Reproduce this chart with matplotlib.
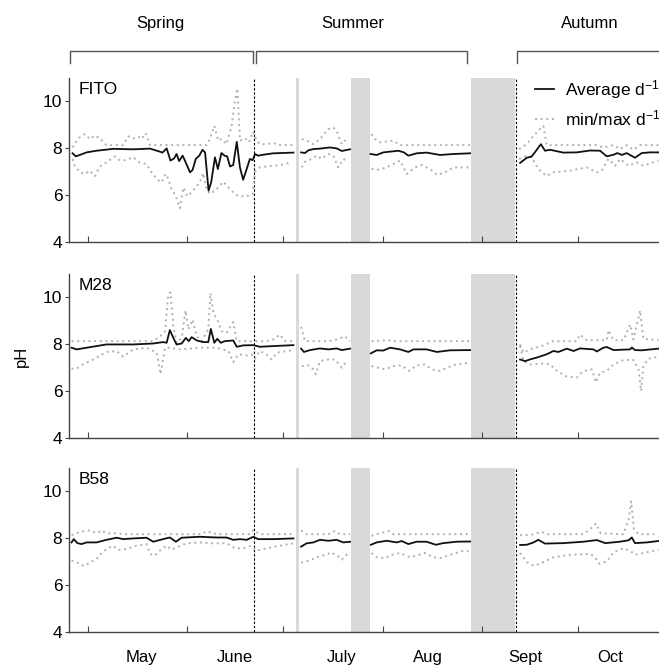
import numpy as np
import matplotlib
matplotlib.use('Agg')
import matplotlib.pyplot as plt
import matplotlib.transforms as mtransforms

plt.rcParams['font.family'] = ['Liberation Sans', 'DejaVu Sans']
plt.rcParams['mathtext.default'] = 'regular'

# x = days since 1 May
GAP = (np.nan, np.nan)

MONTH_START = [0, 31, 61, 92, 123, 153]
MONTH_NAMES = ['May', 'June', 'July', 'Aug', 'Sept', 'Oct']
MONTH_LABEL_POS = [16.5, 45.7, 79.3, 106.0, 136.7, 163.2]

SEASONS = ['Spring', 'Summer', 'Autumn']
SEASON_TEXT_POS = [22.7, 82.7, 156.8]
SEASON_SPANS = [(-5.6, 51.6), (52.3, 118.4), (133.8, None)]
SEASON_BREAKS = [51.9, 133.6]

NO_DATA = [(64.8, 65.8), (82.2, 88.0), (119.6, 133.4)]

FITO_AVG = [(-4.9, 7.79), (-3.9, 7.66), (-2.6, 7.72), (-0.5, 7.83), (2.6, 7.9), (7.8, 7.98), (14.1, 7.96),
            (19.3, 7.99), (22.4, 7.86), (23.2, 7.82), (24.5, 8.0), (25.7, 7.48), (26.8, 7.57), (27.6, 7.76),
            (28.4, 7.46), (29.5, 7.69), (30.2, 7.48), (31.8, 6.98), (32.6, 7.08), (33.6, 7.55), (34.7, 7.69),
            (35.7, 7.94), (36.5, 7.83), (37.6, 6.2), (38.4, 6.55), (39.6, 7.62), (40.5, 7.12), (41.6, 7.8),
            (42.6, 7.69), (43.4, 7.66), (44.3, 7.23), (45.3, 7.29), (46.4, 8.28), (47.4, 7.19), (48.4, 6.66),
            (49.5, 7.12), (50.5, 7.55), (51.4, 7.5), (52.1, 7.76), (53.1, 7.69), (54.7, 7.73), (57.8, 7.79),
            (64.1, 7.82), GAP,
            (66.5, 7.83), (67.7, 7.8), (68.8, 7.92), (70.3, 7.97), (72.4, 7.99), (75.5, 8.04), (77.6, 8.0),
            (79.2, 7.89), (81.8, 7.96), GAP,
            (88.2, 7.76), (90.1, 7.72), (92.2, 7.83), (96.9, 7.9), (98.6, 7.83), (100.0, 7.69), (102.6, 7.79),
            (105.7, 7.82), (109.9, 7.72), (114.1, 7.76), (119.3, 7.79), GAP,
            (134.9, 7.38), (137.0, 7.6), (138.5, 7.65), (139.9, 7.9), (141.4, 8.18), (142.7, 7.9), (144.3, 7.94),
            (148.4, 7.82), (152.6, 7.83), (156.8, 7.91), (159.9, 7.9), (162.0, 7.66), (164.1, 7.73), (165.3, 7.8),
            (166.7, 7.72), (168.2, 7.8), (170.8, 7.6), (172.9, 7.8), (175.5, 7.83), (178.1, 7.83)]

FITO_MAX = [(-4.9, 8.04), (-3.1, 8.43), (-1.0, 8.61), (0.5, 8.4), (2.1, 8.55), (3.6, 8.43), (5.7, 8.14),
            (10.9, 8.14), (12.5, 8.51), (14.1, 8.43), (15.6, 8.51), (16.7, 8.4), (17.9, 8.65), (19.3, 8.14),
            (37.0, 8.14), (38.0, 8.4), (39.4, 8.96), (40.6, 8.33), (41.7, 8.4), (43.2, 8.18), (44.8, 8.96),
            (45.8, 9.96), (46.6, 10.55), (47.4, 8.33), (49.0, 8.43), (50.3, 8.26), (51.4, 8.71), (52.4, 8.4),
            (53.6, 8.18), (55.7, 8.18), (57.8, 8.23), (59.9, 8.14), (64.1, 8.14), GAP,
            (66.7, 8.4), (68.2, 8.33), (70.3, 8.18), (72.4, 8.4), (75.0, 8.82), (76.6, 8.89), (77.6, 8.75),
            (79.2, 8.18), (81.2, 8.47), GAP,
            (88.5, 8.61), (89.6, 8.4), (91.1, 8.26), (95.3, 8.33), (97.4, 8.14), (119.3, 8.14), GAP,
            (134.6, 7.97), (137.0, 8.18), (139.1, 8.54), (141.1, 8.82), (142.2, 8.96), (143.2, 8.14),
            (158.9, 8.14), (160.9, 8.04), (164.1, 8.14), (166.1, 7.97), (168.2, 8.14), (170.3, 7.94),
            (172.4, 8.14), (178.1, 8.14)]

FITO_MIN = [(-4.9, 7.55), (-4.2, 7.26), (-2.6, 6.98), (-1.0, 6.91), (0.5, 7.05), (2.1, 6.82), (3.6, 7.23),
            (5.7, 7.4), (8.3, 7.66), (9.9, 7.48), (11.5, 7.5), (14.1, 7.62), (16.1, 7.4), (18.2, 7.33),
            (19.8, 6.98), (21.4, 6.7), (22.9, 6.55), (24.2, 6.91), (25.0, 6.7), (26.0, 6.27), (27.3, 5.99),
            (28.6, 5.45), (29.7, 6.33), (31.0, 5.96), (32.3, 6.13), (33.3, 6.3), (34.9, 6.55), (35.9, 6.95),
            (37.0, 6.24), (38.0, 6.06), (39.6, 6.2), (41.1, 6.41), (42.2, 6.58), (43.8, 6.33), (45.3, 6.13),
            (46.9, 5.96), (49.5, 5.96), (51.4, 6.06), (52.1, 7.01), (53.6, 7.19), (55.7, 7.23), (59.9, 7.29),
            (63.5, 7.4), GAP,
            (66.7, 7.19), (67.7, 7.43), (69.8, 7.55), (71.4, 7.69), (72.9, 7.55), (75.0, 7.76), (76.6, 7.69),
            (78.1, 7.19), (79.7, 7.55), (81.2, 7.43), GAP,
            (88.5, 7.12), (91.1, 7.09), (94.3, 7.26), (97.4, 7.48), (99.5, 6.91), (102.1, 7.19), (104.2, 7.29),
            (106.8, 7.12), (108.9, 6.87), (111.5, 6.98), (114.1, 7.19), (119.3, 7.19), GAP,
            (134.6, 7.55), (137.0, 7.69), (138.5, 7.62), (140.6, 7.12), (143.2, 6.82), (145.3, 6.98),
            (150.5, 7.05), (155.7, 7.19), (158.9, 6.98), (160.4, 7.05), (162.5, 7.55), (164.6, 7.26),
            (166.1, 7.55), (168.8, 7.26), (171.4, 7.4), (173.4, 7.26), (178.1, 7.48)]

M28_AVG = [(-5.2, 7.86), (-3.6, 7.79), (-0.5, 7.86), (5.7, 8.0), (14.1, 8.0), (20.3, 8.04), (23.4, 8.1),
           (24.5, 8.07), (25.5, 8.61), (26.6, 8.28), (27.6, 8.0), (29.2, 8.04), (30.5, 8.28), (31.4, 8.14),
           (32.3, 8.31), (33.9, 8.17), (35.9, 8.1), (37.5, 8.1), (38.3, 8.66), (39.4, 8.07), (40.3, 8.24),
           (41.4, 8.07), (42.7, 8.14), (45.3, 8.17), (46.4, 7.9), (48.4, 7.96), (51.6, 7.97), (53.6, 7.9),
           (57.8, 7.93), (64.1, 7.97), GAP,
           (66.5, 7.82), (67.4, 7.68), (69.3, 7.76), (72.4, 7.83), (75.0, 7.79), (77.6, 7.83), (79.2, 7.76),
           (81.8, 7.82), GAP,
           (88.3, 7.62), (90.1, 7.75), (92.2, 7.74), (94.3, 7.86), (97.4, 7.79), (100.0, 7.68), (101.6, 7.79),
           (105.7, 7.79), (108.9, 7.68), (113.0, 7.75), (119.3, 7.76), GAP,
           (134.9, 7.36), (136.5, 7.29), (138.0, 7.36), (140.1, 7.44), (143.2, 7.58), (145.3, 7.72),
           (146.9, 7.68), (149.5, 7.82), (151.6, 7.72), (153.6, 7.83), (157.8, 7.79), (158.9, 7.7),
           (160.9, 7.86), (162.0, 7.89), (164.1, 7.76), (169.3, 7.79), (169.8, 7.87), (170.8, 7.76),
           (172.9, 7.75), (178.1, 7.82)]

M28_MAX = [(-5.2, 8.14), (20.3, 8.14), (22.4, 8.35), (24.0, 8.56), (25.0, 10.1), (25.7, 10.22), (26.6, 8.78),
           (27.6, 8.07), (29.2, 8.28), (30.4, 9.45), (31.3, 8.64), (32.6, 9.06), (33.9, 8.35), (35.4, 8.14),
           (37.5, 8.64), (38.2, 10.19), (39.1, 9.34), (40.3, 9.06), (41.7, 8.56), (43.2, 8.49), (45.3, 8.95),
           (46.4, 8.14), (55.7, 8.14), (57.8, 8.21), (59.9, 8.42), (61.5, 8.14), (64.1, 8.14), GAP,
           (66.5, 8.75), (67.7, 8.14), (75.0, 8.14), (77.6, 8.21), (80.2, 8.35), (81.8, 8.14), GAP,
           (88.5, 8.14), (93.8, 8.18), (95.0, 8.14), (119.3, 8.14), GAP,
           (134.9, 8.0), (136.0, 7.65), (138.0, 7.79), (142.2, 7.96), (145.3, 8.14), (152.6, 8.14),
           (153.6, 8.42), (155.7, 8.18), (162.0, 8.18), (162.5, 8.61), (164.1, 8.18), (167.2, 8.18),
           (169.3, 8.85), (170.3, 8.21), (172.4, 9.45), (173.4, 8.24), (178.1, 8.18)]

M28_MIN = [(-5.2, 6.97), (-3.6, 6.97), (-1.6, 7.15), (1.6, 7.36), (5.7, 7.68), (8.9, 7.72), (10.9, 7.48),
           (14.1, 7.79), (18.2, 7.86), (21.4, 7.65), (22.6, 6.73), (24.0, 7.86), (25.5, 7.86), (28.6, 7.79),
           (34.9, 7.86), (40.1, 7.86), (43.8, 7.72), (45.3, 7.25), (46.9, 7.58), (49.5, 7.53), (51.0, 7.58),
           (52.1, 7.39), (53.6, 7.72), (55.7, 7.58), (57.3, 7.36), (58.9, 7.65), (62.0, 7.72), (64.1, 7.76), GAP,
           (66.7, 7.08), (68.8, 7.11), (70.3, 6.94), (71.1, 6.73), (72.4, 7.29), (75.0, 7.36), (77.1, 7.36),
           (79.2, 7.01), (80.7, 7.29), GAP,
           (88.5, 7.08), (90.6, 7.01), (92.7, 6.94), (95.3, 7.08), (97.9, 7.11), (100.3, 6.87), (102.6, 7.11),
           (105.2, 7.15), (107.3, 6.94), (109.9, 6.87), (112.0, 7.01), (115.1, 7.15), (119.3, 7.22), GAP,
           (134.9, 7.93), (136.0, 7.29), (138.0, 7.15), (142.2, 7.19), (144.3, 7.15), (146.4, 6.87),
           (149.5, 6.63), (152.6, 6.59), (154.7, 6.87), (157.3, 6.94), (158.6, 6.38), (159.9, 6.8),
           (162.0, 6.87), (164.1, 7.15), (167.2, 7.34), (170.3, 7.34), (171.9, 6.94), (172.7, 6.02),
           (173.4, 7.08), (175.0, 7.39), (178.1, 7.48)]

B58_AVG = [(-5.2, 7.83), (-4.5, 7.97), (-3.4, 7.8), (-2.1, 7.76), (-0.5, 7.83), (2.6, 7.83), (5.7, 7.94),
           (8.9, 8.03), (10.9, 7.97), (14.1, 8.0), (18.2, 8.03), (20.3, 7.86), (23.4, 7.97), (25.5, 8.04),
           (27.4, 7.86), (29.2, 8.03), (34.9, 8.07), (40.1, 8.04), (43.2, 8.04), (45.3, 7.94), (47.4, 7.97),
           (49.5, 7.94), (51.6, 8.07), (53.1, 7.97), (57.8, 7.97), (64.1, 8.0), GAP,
           (66.5, 7.65), (68.2, 7.79), (70.3, 7.83), (72.4, 7.94), (75.0, 7.9), (77.6, 7.94), (79.7, 7.83),
           (81.8, 7.86), GAP,
           (88.3, 7.73), (90.1, 7.83), (93.2, 7.9), (96.4, 7.83), (97.9, 7.89), (100.0, 7.76), (102.6, 7.86),
           (105.7, 7.86), (108.6, 7.73), (110.9, 7.8), (115.1, 7.86), (119.3, 7.87), GAP,
           (134.9, 7.72), (137.0, 7.73), (139.1, 7.83), (140.6, 7.94), (142.7, 7.78), (148.4, 7.8),
           (154.7, 7.86), (158.9, 7.93), (161.5, 7.8), (166.1, 7.86), (168.8, 7.92), (169.8, 8.04),
           (170.8, 7.8), (174.5, 7.83), (178.1, 7.89)]

B58_MAX = [(-5.2, 8.14), (-2.6, 8.28), (0.5, 8.34), (2.6, 8.22), (4.2, 8.34), (5.7, 8.22), (8.9, 8.22),
           (12.0, 8.18), (35.5, 8.18), (36.9, 8.31), (40.1, 8.18), (50.5, 8.18), (51.6, 8.36), (53.6, 8.18),
           (64.1, 8.18), GAP,
           (66.5, 8.34), (68.2, 8.18), (75.0, 8.18), (77.1, 8.32), (78.6, 8.18), (81.8, 8.18), GAP,
           (88.5, 8.11), (90.1, 8.18), (93.8, 8.32), (95.3, 8.18), (119.3, 8.18), GAP,
           (134.9, 8.14), (138.0, 8.14), (141.7, 8.28), (143.2, 8.18), (154.7, 8.18), (157.3, 8.46),
           (158.6, 8.64), (160.1, 8.22), (163.0, 8.2), (167.2, 8.18), (168.8, 8.81), (169.6, 9.58),
           (170.5, 8.39), (171.9, 8.18), (178.1, 8.18)]

B58_MIN = [(-5.2, 7.06), (-3.6, 6.99), (-2.4, 6.88), (-1.1, 6.83), (0.5, 6.97), (2.6, 7.13), (3.6, 7.3),
           (5.7, 7.55), (7.8, 7.69), (9.4, 7.51), (12.0, 7.55), (15.1, 7.69), (18.2, 7.76), (19.3, 7.34),
           (20.8, 7.27), (22.9, 7.55), (24.5, 7.69), (26.0, 7.52), (27.6, 7.62), (30.7, 7.79), (34.9, 7.83),
           (39.1, 7.79), (43.2, 7.8), (45.8, 7.58), (48.4, 7.58), (51.0, 7.69), (52.6, 7.48), (55.7, 7.58),
           (59.9, 7.69), (64.1, 7.79), GAP,
           (66.5, 6.97), (69.3, 7.06), (71.4, 7.2), (75.0, 7.34), (75.5, 7.41), (77.6, 7.3), (79.2, 7.1),
           (81.2, 7.38), GAP,
           (88.5, 7.38), (90.1, 7.2), (92.7, 7.16), (94.8, 7.3), (97.4, 7.38), (100.5, 7.2), (102.6, 7.27),
           (105.2, 7.38), (107.8, 7.2), (109.9, 7.16), (113.0, 7.3), (117.2, 7.48), (119.3, 7.44), GAP,
           (134.9, 7.38), (137.0, 6.99), (139.3, 6.83), (142.2, 6.99), (145.3, 7.2), (150.5, 7.3),
           (156.8, 7.34), (158.3, 7.2), (159.7, 6.92), (162.0, 7.02), (164.1, 7.41), (167.2, 7.58),
           (169.6, 7.44), (170.8, 7.3), (173.4, 7.38), (178.1, 7.52)]

PANELS = [('FITO', FITO_AVG, FITO_MIN, FITO_MAX),
          ('M28', M28_AVG, M28_MIN, M28_MAX),
          ('B58', B58_AVG, B58_MIN, B58_MAX)]

XLIM = (-5.94, 178.3)
AX_COL = '#444444'
DOT_COL = '#b0b0b0'
DOTS = (0, (1.0, 1.9))


def draw(ax, pts, **kw):
    a = np.array(pts, dtype=float)
    return ax.plot(a[:, 0], a[:, 1], **kw)


fig = plt.figure(figsize=(6.59, 6.68), dpi=100)
bottoms = [0.6373, 0.3438, 0.0534]
axes = []
for i, (name, avg, lo, hi) in enumerate(PANELS):
    ax = fig.add_axes([0.105, bottoms[i], 0.895, 0.246])
    axes.append(ax)
    for a, b in NO_DATA:
        ax.axvspan(a, b, color='#d9d9d9', lw=0, zorder=0)
    for xb in SEASON_BREAKS:
        ax.axvline(xb, color='k', lw=0.8, ls=(0, (2.2, 1.6)), zorder=1)
    draw(ax, lo, color=DOT_COL, lw=1.4, ls=DOTS, zorder=2)
    l2, = draw(ax, hi, color=DOT_COL, lw=1.4, ls=DOTS, zorder=2)
    l1, = draw(ax, avg, color='#111111', lw=1.3, zorder=3)

    ax.set_xlim(*XLIM)
    ax.set_ylim(4, 11)
    ax.set_yticks([4, 6, 8, 10])
    ax.set_xticks(MONTH_START)
    ax.set_xticklabels([])
    ax.set_xticks(MONTH_LABEL_POS, minor=True)
    ax.tick_params(axis='x', which='major', direction='in', length=4, width=0.8, color=AX_COL)
    ax.tick_params(axis='x', which='minor', length=0, pad=13, labelsize=12)
    ax.tick_params(axis='y', direction='out', length=3, width=0.8, color=AX_COL, labelsize=12.5, pad=2)
    if i == 2:
        ax.set_xticklabels(MONTH_NAMES, minor=True)
    else:
        ax.set_xticklabels([], minor=True)
    for s in ['top', 'right']:
        ax.spines[s].set_visible(False)
    for s in ['left', 'bottom']:
        ax.spines[s].set_color(AX_COL)
        ax.spines[s].set_linewidth(1.0)
    ax.text(0.016, 0.903, name, transform=ax.transAxes, fontsize=12.5, va='baseline', ha='left')

    if i == 0:
        ax.legend([l1, l2], ['Average d$^{-1}$', 'min/max d$^{-1}$'], loc='upper left',
                  bbox_to_anchor=(0.79, 1.0), frameon=False, fontsize=12.5, handlelength=1.1,
                  handletextpad=0.6, labelspacing=0.45, borderpad=0, borderaxespad=0)
    if i == 1:
        ax.set_ylabel('pH', fontsize=12, labelpad=10)

# season brackets above the top panel
ax = axes[0]
trans = mtransforms.blended_transform_factory(ax.transData, ax.transAxes)
y_top, y_leg = 1.166, 1.093
for (a, b), lab, xt in zip(SEASON_SPANS, SEASONS, SEASON_TEXT_POS):
    if b is None:
        xs, ys = [a, a, XLIM[1] + 5], [y_leg, y_top, y_top]
    else:
        xs, ys = [a, a, b, b], [y_leg, y_top, y_top, y_leg]
    ax.plot(xs, ys, transform=trans, color='#555555', lw=1.0, clip_on=False)
    ax.text(xt, 1.333, lab, transform=trans, fontsize=12, ha='center', va='center')

fig.savefig('out.png', dpi=100)
